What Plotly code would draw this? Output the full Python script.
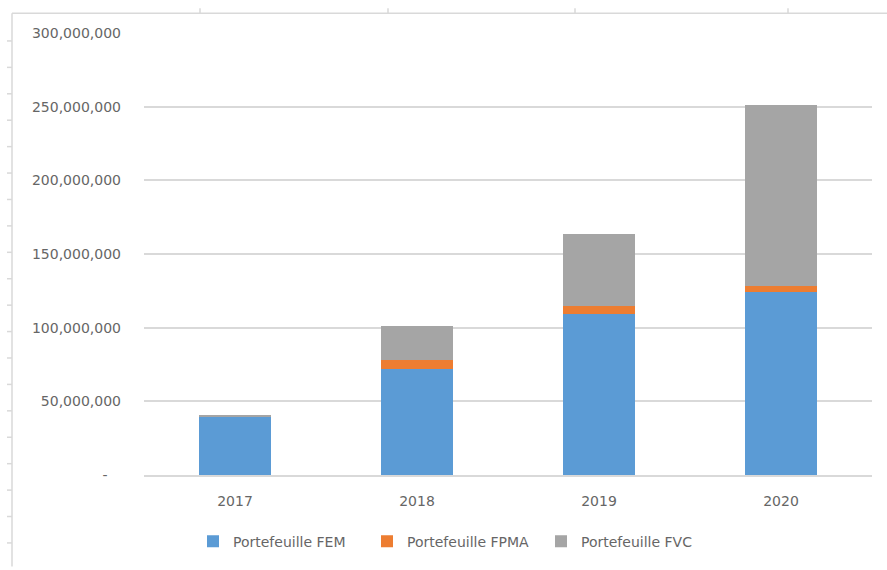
import plotly.graph_objects as go

# Portfolio values by year (stacked)
years = ["2017", "2018", "2019", "2020"]
fem = [40_000_000, 72_000_000, 109_000_000, 124_000_000]
fpma = [0, 5_800_000, 5_600_000, 4_600_000]
fvc = [700_000, 23_500_000, 49_200_000, 122_400_000]

series_names = ["Portefeuille FEM", "Portefeuille FPMA", "Portefeuille FVC"]
series_colors = ["#5B9BD5", "#ED7D31", "#A5A5A5"]

y_ticks = [0, 50_000_000, 100_000_000, 150_000_000, 200_000_000, 250_000_000, 300_000_000]
y_ticktext = ["-\u00a0\u00a0\u00a0"] + [f"{v:,}" for v in y_ticks[1:]]

TEXT = "#666666"
FONT = "DejaVu Sans"

fig = go.Figure()
for name, vals, col in zip(series_names, [fem, fpma, fvc], series_colors):
    fig.add_trace(go.Bar(
        x=years, y=vals, name=name,
        marker=dict(color=col, line=dict(width=0)),
    ))

# Plot area geometry in pixels (used for the surrounding frame decoration)
W, H = 887, 570
L, R, T, B = 144, 15, 33, 92
pw, ph = W - L - R, H - T - B


def px_x(x):
    return (x - L) / pw


def px_y(y):
    return (H - B - y) / ph


frame = "#d9d9d9"
shapes = [
    dict(type="line", xref="paper", yref="paper",
         x0=px_x(12), x1=px_x(887), y0=px_y(13), y1=px_y(13),
         line=dict(color=frame, width=1.5)),
    dict(type="line", xref="paper", yref="paper",
         x0=px_x(12), x1=px_x(12), y0=px_y(13), y1=px_y(570),
         line=dict(color=frame, width=1.5)),
]
for tx in [200, 388, 575, 788]:
    shapes.append(dict(type="line", xref="paper", yref="paper",
                       x0=px_x(tx), x1=px_x(tx), y0=px_y(13), y1=px_y(8),
                       line=dict(color=frame, width=1.5)))
ty = 41.0
while ty < 570:
    shapes.append(dict(type="line", xref="paper", yref="paper",
                       x0=px_x(7), x1=px_x(12), y0=px_y(ty), y1=px_y(ty),
                       line=dict(color=frame, width=1.5)))
    ty += 26.6

fig.update_layout(
    width=W, height=H,
    margin=dict(l=L, r=R, t=T, b=B),
    barmode="stack",
    bargap=0.6,
    plot_bgcolor="white",
    paper_bgcolor="white",
    font=dict(family=FONT, color=TEXT, size=14),
    xaxis=dict(showgrid=False, showline=True, linecolor="#d9d9d9", linewidth=1.5,
               ticks="", tickfont=dict(size=14, color=TEXT), ticklabelstandoff=12),
    yaxis=dict(range=[0, 300_000_000], tickvals=y_ticks, ticktext=y_ticktext,
               showgrid=True, gridcolor="#d9d9d9", gridwidth=1.5,
               zeroline=False, showline=False, ticks="",
               tickfont=dict(size=14, color=TEXT), ticklabelstandoff=22),
    legend=dict(orientation="h", x=px_x(193), xanchor="left", y=px_y(545), yanchor="middle",
                font=dict(size=14, color=TEXT), traceorder="normal",
                itemwidth=30, entrywidth=129, entrywidthmode="pixels"),
    shapes=shapes,
    showlegend=True,
)

fig.write_html("out.html")
